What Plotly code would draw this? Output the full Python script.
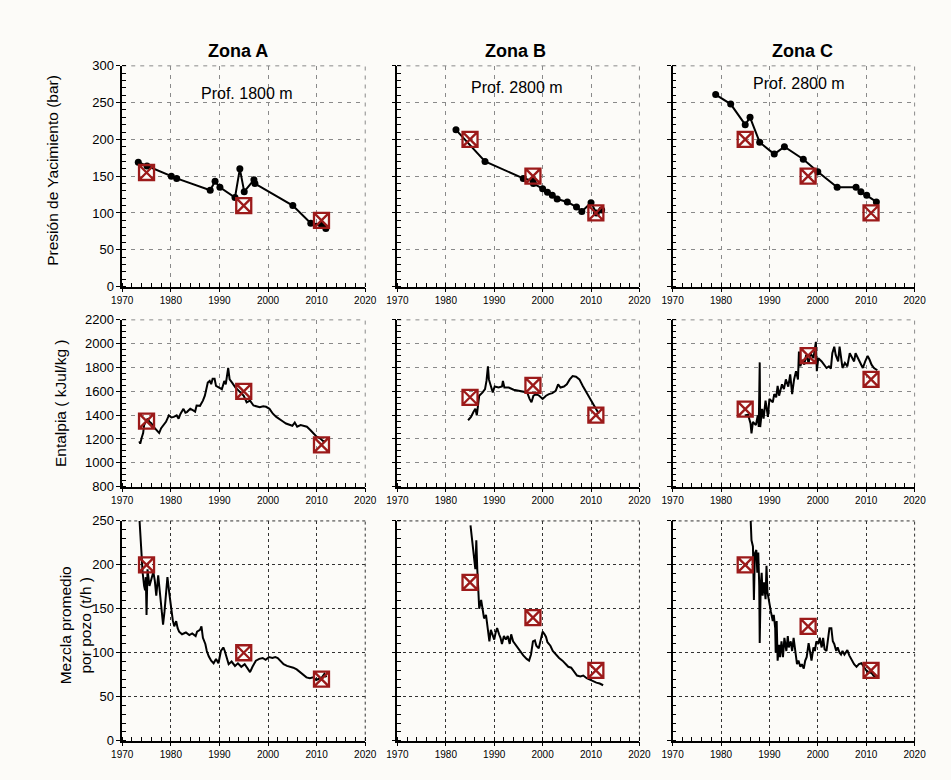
import plotly.graph_objects as go

# ---------------- data ----------------
zones = ["Zona A", "Zona B", "Zona C"]
depths = ["Prof. 1800 m", "Prof. 2800 m", "Prof. 2800 m"]

# reservoir pressure (bar), monitored points
pa_year = [1973.3, 1975.1, 1980.1, 1981.2, 1988.1, 1989.1, 1990.1, 1993.2, 1994.2, 1995.1, 1997.1, 1997.3, 2005.1, 2008.8, 2011.0, 2011.9]
pa_bar = [169, 164, 150, 147, 131, 143, 135, 121, 160, 129, 145, 140, 110, 86, 84, 79]
pb_year = [1982.1, 1988.1, 1996.0, 1998.0, 1998.1, 2000.0, 2001.0, 2002.0, 2003.0, 2005.1, 2007.0, 2008.1, 2010.0, 2011.1, 2012.2]
pb_bar = [213, 170, 147, 144, 140, 133, 128, 124, 119, 115, 108, 102, 114, 100, 104]
pc_year = [1978.9, 1982.0, 1985.0, 1986.0, 1988.0, 1991.0, 1993.1, 1997.0, 2000.0, 2004.0, 2007.9, 2008.9, 2010.1, 2012.1]
pc_bar = [261, 248, 220, 230, 196, 180, 190, 173, 156, 135, 135, 129, 124, 115]

# enthalpy (kJ/kg)
ea_year = [1973.5, 1973.7, 1974.0, 1974.3, 1974.5, 1974.8, 1975.2, 1975.6, 1976.0, 1976.5, 1977.0, 1977.6, 1978.0, 1978.5, 1979.0, 1979.6, 1980.1, 1980.6, 1981.2, 1981.6, 1982.0, 1982.6, 1983.0, 1983.3, 1984.0, 1984.6, 1985.0, 1985.3, 1986.0, 1986.6, 1987.0, 1987.3, 1987.6, 1988.0, 1988.3, 1988.6, 1989.0, 1989.3, 1990.0, 1990.5, 1991.0, 1991.3, 1991.8, 1992.1, 1992.6, 1993.3, 1994.0, 1995.0, 1995.6, 1996.3, 1997.0, 1997.6, 1998.3, 1999.0, 1999.6, 2000.3, 2001.0, 2001.7, 2002.3, 2003.0, 2003.7, 2004.3, 2005.0, 2005.5, 2006.0, 2006.7, 2007.3, 2008.0, 2008.7, 2009.4, 2010.0, 2010.7, 2011.4, 2011.7]
ea_val = [1179, 1160, 1210, 1250, 1316, 1340, 1371, 1345, 1330, 1300, 1280, 1250, 1290, 1320, 1344, 1398, 1380, 1385, 1398, 1370, 1412, 1453, 1420, 1426, 1453, 1440, 1430, 1481, 1478, 1522, 1563, 1618, 1673, 1687, 1660, 1706, 1706, 1645, 1632, 1618, 1687, 1659, 1796, 1700, 1673, 1632, 1604, 1563, 1508, 1522, 1481, 1475, 1467, 1475, 1470, 1453, 1412, 1385, 1371, 1349, 1330, 1322, 1311, 1338, 1303, 1316, 1311, 1303, 1275, 1247, 1220, 1206, 1179, 1184]
eb_year = [1984.6, 1985.2, 1985.7, 1986.1, 1986.4, 1986.6, 1986.9, 1987.6, 1988.1, 1988.4, 1988.7, 1988.9, 1989.3, 1989.7, 1990.1, 1990.9, 1991.6, 1991.8, 1992.1, 1993.0, 1994.0, 1995.0, 1996.0, 1996.8, 1997.3, 1997.7, 1998.1, 1998.7, 1999.3, 2000.0, 2000.7, 2001.3, 2002.0, 2002.7, 2003.2, 2003.7, 2004.4, 2005.0, 2005.6, 2006.2, 2006.9, 2007.6, 2008.3, 2009.1, 2009.9, 2010.6, 2011.2, 2011.6]
eb_val = [1357, 1385, 1426, 1453, 1398, 1481, 1563, 1591, 1618, 1687, 1810, 1700, 1645, 1591, 1640, 1632, 1640, 1687, 1632, 1632, 1613, 1604, 1596, 1591, 1536, 1508, 1563, 1577, 1563, 1536, 1563, 1577, 1585, 1604, 1659, 1632, 1640, 1659, 1700, 1728, 1722, 1700, 1645, 1591, 1536, 1481, 1440, 1412]
ec_year = [1984.9, 1985.6, 1986.1, 1986.3, 1986.6, 1987.2, 1987.6, 1987.8, 1988.0, 1988.1, 1988.5, 1988.8, 1989.2, 1989.7, 1990.0, 1990.7, 1991.0, 1991.4, 1991.7, 1992.0, 1992.6, 1993.0, 1993.4, 1993.9, 1994.3, 1994.7, 1995.1, 1995.5, 1995.9, 1996.1, 1996.4, 1996.8, 1997.2, 1997.6, 1998.1, 1998.5, 1999.1, 1999.6, 1999.8, 2000.1, 2000.8, 2001.3, 2001.8, 2002.3, 2002.7, 2003.0, 2003.4, 2003.7, 2004.2, 2004.5, 2004.8, 2005.1, 2005.6, 2006.1, 2006.6, 2007.0, 2007.5, 2007.8, 2008.3, 2008.8, 2009.3, 2009.8, 2010.3, 2010.7, 2011.1, 2011.6, 2012.3]
ec_val = [1398, 1404, 1330, 1247, 1343, 1316, 1398, 1302, 1843, 1300, 1453, 1370, 1522, 1385, 1536, 1508, 1577, 1550, 1645, 1563, 1659, 1618, 1700, 1640, 1742, 1577, 1700, 1769, 1700, 1934, 1810, 1865, 1824, 1906, 1838, 1920, 1879, 2016, 1769, 1879, 1851, 1824, 1796, 1810, 1790, 1920, 1975, 1906, 1851, 1975, 1893, 1796, 1838, 1810, 1920, 1893, 1851, 1920, 1879, 1838, 1796, 1851, 1898, 1865, 1824, 1796, 1777]

# average mass flow per well (t/h)
fa_year = [1973.5, 1973.7, 1974.0, 1974.2, 1974.5, 1974.7, 1974.85, 1975.0, 1975.2, 1975.6, 1976.0, 1976.4, 1976.7, 1977.0, 1977.4, 1977.7, 1978.0, 1978.4, 1978.7, 1979.1, 1979.3, 1979.7, 1980.1, 1980.4, 1980.7, 1981.1, 1981.4, 1981.7, 1982.3, 1983.1, 1983.8, 1984.4, 1985.1, 1985.4, 1986.0, 1986.3, 1986.6, 1987.1, 1987.4, 1987.8, 1988.3, 1988.8, 1989.3, 1989.8, 1990.3, 1990.8, 1991.1, 1991.5, 1991.9, 1992.5, 1993.2, 1993.8, 1994.5, 1995.2, 1995.8, 1996.3, 1996.8, 1997.5, 1998.2, 1998.9, 1999.5, 2000.2, 2000.9, 2001.5, 2002.0, 2002.6, 2003.2, 2003.9, 2004.6, 2005.2, 2005.9, 2006.6, 2007.2, 2007.9, 2008.6, 2009.3, 2009.9, 2010.6, 2011.1, 2011.6, 2012.0]
fa_val = [256, 236, 217, 191, 176, 171, 186, 143, 195, 176, 184, 192, 182, 165, 188, 173, 154, 132, 147, 173, 186, 167, 147, 137, 130, 136, 128, 124, 121, 123, 120, 122, 119, 124, 126, 130, 117, 110, 102, 96, 91, 88, 93, 88, 102, 106, 102, 93, 87, 90, 85, 88, 84, 87, 82, 78, 84, 91, 93, 94, 92, 95, 94, 95, 94, 91, 87, 85, 84, 83, 81, 78, 76, 72, 71, 72, 69, 71, 72, 76, 72]
fb_year = [1985.1, 1985.5, 1985.8, 1986.1, 1986.3, 1986.5, 1986.7, 1986.9, 1987.3, 1987.6, 1987.9, 1988.3, 1988.6, 1989.0, 1989.3, 1989.6, 1990.0, 1990.3, 1990.6, 1991.0, 1991.3, 1991.6, 1992.0, 1992.4, 1992.8, 1993.2, 1993.5, 1993.9, 1994.3, 1994.8, 1995.3, 1996.0, 1996.7, 1997.2, 1997.6, 1998.0, 1998.4, 1998.7, 1999.2, 1999.6, 2000.0, 2000.4, 2000.7, 2001.0, 2001.6, 2002.1, 2002.7, 2003.4, 2004.1, 2004.7, 2005.3, 2005.9, 2006.4, 2007.1, 2007.8, 2008.4, 2009.1, 2009.8, 2010.5, 2011.1, 2011.8, 2012.5]
fb_val = [245, 228, 210, 195, 228, 195, 169, 150, 160, 147, 139, 143, 128, 113, 126, 121, 115, 123, 128, 121, 117, 110, 119, 115, 119, 110, 121, 113, 110, 107, 102, 97, 93, 91, 98, 113, 114, 108, 105, 113, 124, 121, 118, 112, 108, 102, 98, 94, 91, 88, 84, 83, 79, 74, 73, 74, 71, 69, 67, 66, 65, 63]
fc_year = [1986.1, 1986.3, 1986.6, 1986.8, 1987.0, 1987.3, 1987.5, 1987.7, 1987.9, 1988.0, 1988.2, 1988.4, 1988.6, 1988.9, 1989.2, 1989.4, 1989.6, 1990.0, 1990.3, 1990.7, 1990.9, 1991.2, 1991.3, 1991.5, 1991.7, 1992.0, 1992.2, 1992.5, 1992.8, 1993.1, 1993.5, 1993.8, 1994.0, 1994.4, 1994.7, 1995.0, 1995.4, 1995.7, 1996.0, 1996.4, 1996.7, 1997.1, 1997.4, 1997.7, 1998.1, 1998.4, 1998.7, 1999.1, 1999.4, 1999.7, 2000.1, 2000.4, 2000.8, 2001.1, 2001.4, 2001.8, 2002.1, 2002.4, 2002.8, 2003.1, 2003.4, 2003.8, 2004.1, 2004.5, 2004.8, 2005.1, 2005.5, 2005.8, 2006.1, 2006.5, 2006.9, 2007.5, 2008.0, 2008.5, 2009.0, 2009.5, 2010.0, 2010.5, 2011.1, 2011.5, 2012.1]
fc_val = [255, 228, 221, 160, 213, 217, 191, 214, 176, 111, 176, 191, 165, 180, 161, 199, 169, 154, 147, 136, 143, 128, 100, 136, 91, 109, 95, 113, 95, 117, 102, 119, 106, 113, 102, 117, 98, 87, 91, 84, 87, 82, 91, 95, 111, 100, 91, 106, 102, 113, 110, 117, 106, 117, 104, 102, 117, 128, 128, 113, 110, 102, 106, 100, 98, 102, 98, 100, 103, 97, 93, 87, 84, 87, 88, 84, 80, 78, 77, 74, 71]

# field measurements (square markers)
meas_a_year = [1975, 1995, 2011]
meas_bc_year = [1985, 1998, 2011]
mp_a = [155, 110, 90]
mp_b = [200, 150, 100]
mp_c = [200, 150, 100]
me_a = [1350, 1600, 1150]
me_b = [1550, 1650, 1400]
me_c = [1450, 1900, 1700]
mf_a = [200, 100, 70]
mf_b = [180, 140, 80]
mf_c = [200, 130, 80]

year_ticks = [1970, 1980, 1990, 2000, 2010, 2020]

# ---------------- layout helpers ----------------
W, H = 951, 780
FONT = "Liberation Sans, Arial, sans-serif"
MEAS_COLOR = "#9c1a1a"

col_px = [(114, 363), (396, 644), (678, 926)]
row_px = [(60, 285), (319, 489), (524, 748)]
y_ranges = [(0, 300), (800, 2200), (0, 250)]
y_dtick = [50, 200, 50]
y_minor = [10, 50, 10]

fig = go.Figure()

series_lines = [
    [(pa_year, pa_bar), (pb_year, pb_bar), (pc_year, pc_bar)],
    [(ea_year, ea_val), (eb_year, eb_val), (ec_year, ec_val)],
    [(fa_year, fa_val), (fb_year, fb_val), (fc_year, fc_val)],
]
series_meas = [
    [mp_a, mp_b, mp_c],
    [me_a, me_b, me_c],
    [mf_a, mf_b, mf_c],
]

layout_axes = {}
shapes = []
for r in range(3):
    for c in range(3):
        k = r * 3 + c + 1
        xname = "x" if k == 1 else f"x{k}"
        yname = "y" if k == 1 else f"y{k}"
        xs, ys = series_lines[r][c]
        if r == 0:
            fig.add_trace(go.Scatter(
                x=xs, y=ys, mode="lines+markers", xaxis=xname, yaxis=yname,
                line=dict(color="black", width=2),
                marker=dict(color="black", size=7), showlegend=False))
        else:
            fig.add_trace(go.Scatter(
                x=xs, y=ys, mode="lines", xaxis=xname, yaxis=yname,
                line=dict(color="black", width=2), showlegend=False))
        myears = meas_a_year if c == 0 else meas_bc_year
        fig.add_trace(go.Scatter(
            x=myears, y=series_meas[r][c], mode="markers", xaxis=xname, yaxis=yname,
            marker=dict(symbol="square-x-open", size=15,
                        line=dict(color=MEAS_COLOR, width=2.3), color=MEAS_COLOR),
            showlegend=False, cliponaxis=False))

        grid_color = "#8a8a8a" if r < 2 else "#333333"
        grid_dash = "4px,5px" if r < 2 else "3px,3px"
        x0, x1 = col_px[c]
        y0, y1 = row_px[r]
        layout_axes["xaxis" if k == 1 else f"xaxis{k}"] = dict(
            domain=[x0 / W, x1 / W], anchor=yname, range=[1970, 2020],
            tickvals=year_ticks, ticks="outside", ticklen=4, tickwidth=1.3,
            tickcolor="black", showline=True, linecolor="black", linewidth=1.5,
            showgrid=True, gridcolor=grid_color, griddash=grid_dash, gridwidth=1,
            zeroline=False, tickfont=dict(family=FONT, size=10, color="black"),
            minor=dict(dtick=2, tick0=1970, ticks="inside", ticklen=4,
                       tickwidth=1.2, tickcolor="black", showgrid=False),
            fixedrange=True,
        )
        layout_axes["yaxis" if k == 1 else f"yaxis{k}"] = dict(
            domain=[1 - y1 / H, 1 - y0 / H], anchor=xname, range=list(y_ranges[r]),
            dtick=y_dtick[r], tick0=0, ticks="outside", ticklen=4, tickwidth=1.3,
            tickcolor="black", showline=True, linecolor="black", linewidth=1.5,
            showgrid=True, gridcolor=grid_color, griddash=grid_dash, gridwidth=1,
            zeroline=False, tickfont=dict(family=FONT, size=13, color="black"),
            showticklabels=(c == 0),
            minor=dict(dtick=y_minor[r], ticks="inside", ticklen=4,
                       tickwidth=1.2, tickcolor="black", showgrid=False),
            fixedrange=True,
        )
        # dashed grid lines on the top and right frame edges
        edge_line = dict(color=grid_color, width=1, dash=grid_dash)
        shapes.append(dict(type="line", xref=f"{xname} domain", yref=f"{yname} domain",
                           x0=1, x1=1, y0=0, y1=1, line=edge_line, layer="below"))
        shapes.append(dict(type="line", xref=f"{xname} domain", yref=f"{yname} domain",
                           x0=0, x1=1, y0=1, y1=1, line=edge_line, layer="below"))

annotations = []
title_x = [233, 517, 811]
depth_pos = [(242, 88), (519, 82), (808, 78)]
for c in range(3):
    annotations.append(dict(
        text=f"<b>{zones[c]}</b>", x=title_x[c] / W, y=1 - 45 / H,
        xref="paper", yref="paper", showarrow=False, xanchor="center", yanchor="middle",
        font=dict(family=FONT, size=18, color="black")))
    annotations.append(dict(
        text=depths[c], x=depth_pos[c][0] / W, y=1 - depth_pos[c][1] / H,
        xref="paper", yref="paper", showarrow=False, xanchor="center", yanchor="middle",
        font=dict(family=FONT, size=16, color="black")))

ytitles = [
    ("Presión de Yacimiento (bar)", 43, 166),
    ("Entalpia ( kJul/kg )", 50, 404),
    ("Mezcla promedio<br>por pozo (t/h )", 66, 630),
]
for text, px, py in ytitles:
    annotations.append(dict(
        text=text, x=px / W, y=1 - py / H, xref="paper", yref="paper",
        showarrow=False, textangle=-90, xanchor="center", yanchor="middle",
        font=dict(family=FONT, size=15.5, color="black")))

fig.update_layout(
    width=W, height=H, autosize=False,
    margin=dict(l=0, r=0, t=0, b=0),
    paper_bgcolor="#fcfbf8", plot_bgcolor="rgba(0,0,0,0)",
    annotations=annotations, shapes=shapes, showlegend=False,
    **layout_axes,
)

fig.write_html("out.html", config={"displayModeBar": False})
